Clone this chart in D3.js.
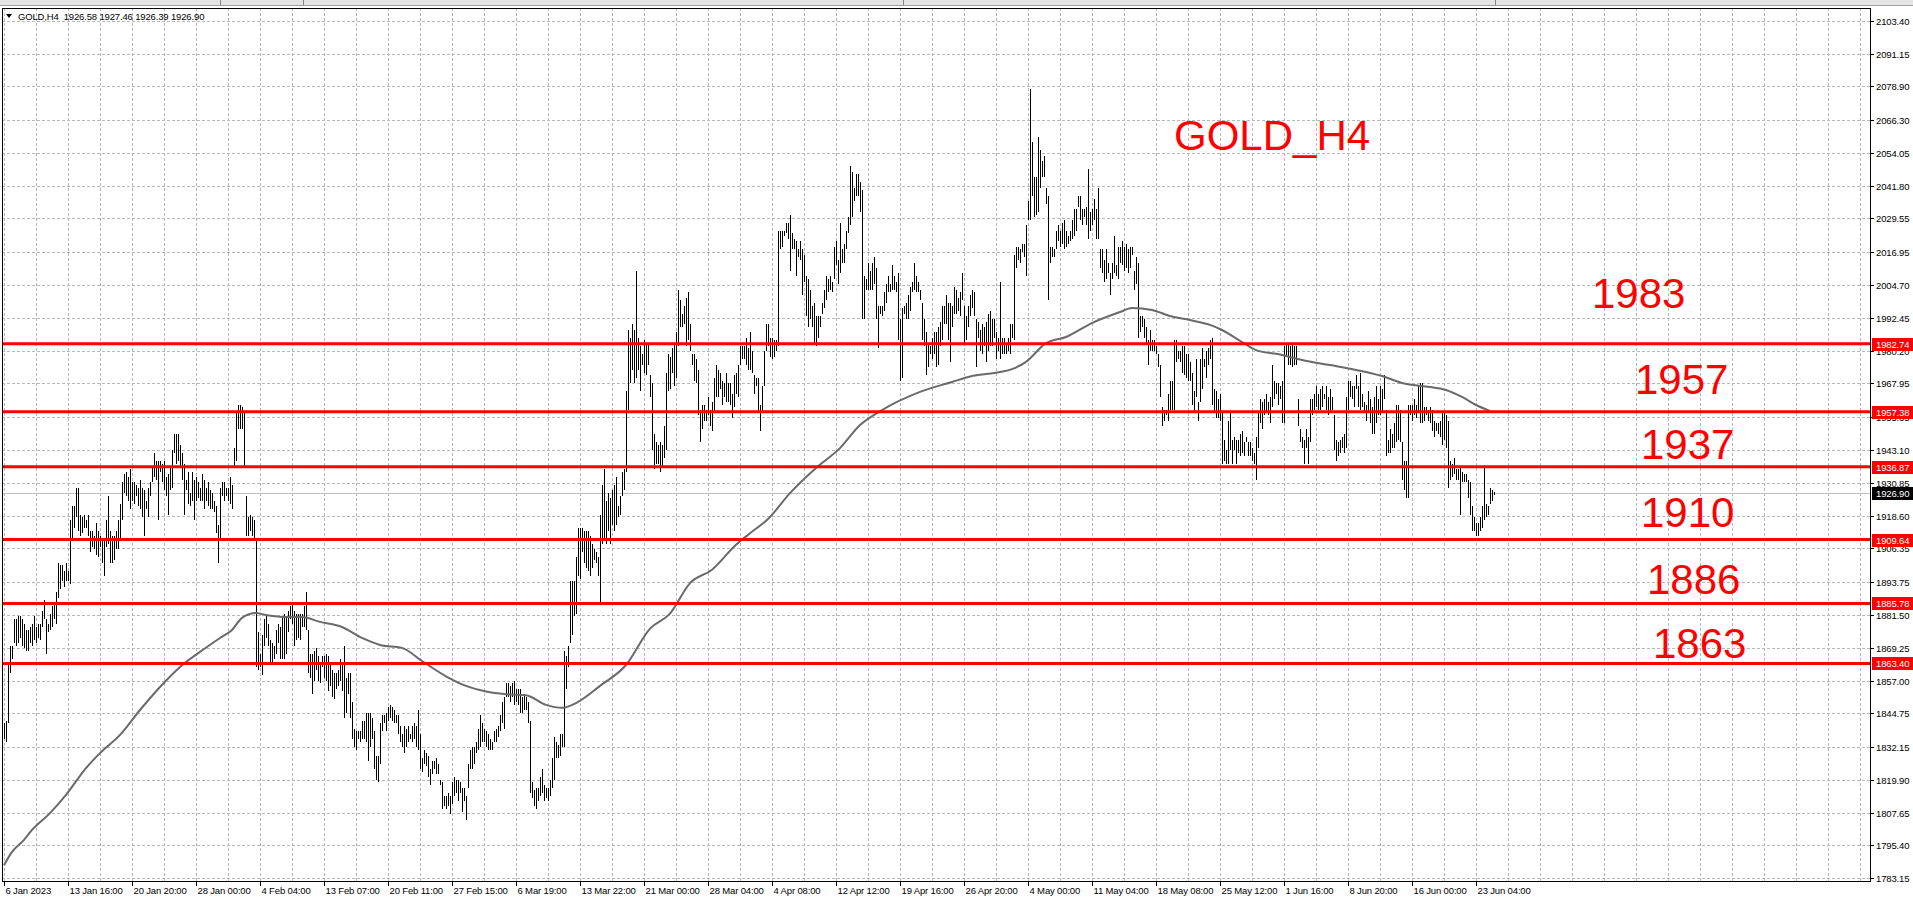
<!DOCTYPE html>
<html><head><meta charset="utf-8">
<script src="https://cdn.jsdelivr.net/npm/d3@7/dist/d3.min.js"></script>
<style>
html,body{margin:0;padding:0;background:#fff;overflow:hidden}
svg{display:block}
text{font-family:"Liberation Sans",Arial,sans-serif}
.sm{font-size:9.5px;letter-spacing:-0.15px}
</style></head><body>
<svg id="c" width="1913" height="899"></svg>
<script>
// ---------------- DATA ----------------
const symbol = "GOLD,H4";
const lastBar = {open: 1926.58, high: 1927.46, low: 1926.39, close: 1926.90};
const chartTitle = "GOLD_H4";

// H4 bar highs, one per bar (6 Jan 2023 -> 23 Jun 2023)
const highs = [
1841,1842,1864,1870,1870,1880,1880,1881,1881,1880,
1878,1876,1876,1877,1878,1881,1877,1878,1878,1883,
1887,1880,1878,1882,1885,1886,1890,1901,1900,1900,
1898,1901,1898,1917,1922,1922,1929,1929,1919,1918,
1919,1917,1919,1913,1913,1911,1916,1913,1911,1909,
1909,1917,1926,1913,1911,1911,1913,1917,1923,1931,
1934,1935,1933,1936,1931,1931,1930,1929,1932,1929,
1928,1924,1929,1931,1937,1942,1939,1939,1939,1938,
1939,1933,1934,1937,1943,1949,1949,1949,1945,1942,
1938,1932,1935,1927,1935,1932,1933,1931,1929,1934,
1932,1929,1931,1928,1927,1924,1922,1915,1929,1931,
1931,1929,1929,1933,1930,1944,1957,1960,1960,1959,
1957,1926,1918,1919,1918,1917,1910,1875,1867,1874,
1880,1881,1878,1872,1871,1870,1876,1878,1877,1881,
1882,1881,1883,1885,1886,1883,1882,1882,1882,1882,
1885,1890,1876,1867,1867,1868,1869,1866,1863,1866,
1866,1867,1866,1863,1861,1860,1860,1861,1865,1863,
1870,1858,1860,1860,1849,1839,1838,1838,1838,1842,
1842,1845,1845,1845,1843,1838,1829,1829,1841,
1844,1844,1845,1847,1848,1847,1846,1844,1844,1840,
1837,1840,1839,1840,1837,1840,1841,1840,1846,1837,
1828,1831,1830,1829,1824,1827,1827,1828,1826,1820,
1819,1814,1814,1815,1814,1819,1821,1820,1820,1819,
1817,1817,1814,1826,1831,1832,1832,1834,1839,1844,
1841,1839,1838,1837,1835,1834,1838,1839,1840,1844,
1849,1851,1856,1856,1855,1856,1857,1854,1854,1854,
1851,1852,1851,1849,1842,1819,1816,1817,1817,1821,
1824,1818,1817,1817,1820,1828,1836,1834,1833,1837,
1837,1868,1866,1870,1894,1894,1894,1903,1914,1914,
1914,1913,1913,1913,1911,1908,1906,1905,1903,1919,
1930,1936,1924,1927,1925,1928,1930,1933,1922,1926,
1935,1936,1965,1988,1985,1990,1988,2010,1985,1982,
1979,1984,1983,1983,1971,1968,1949,1946,1945,1946,
1945,1952,1972,1979,1978,1981,1983,1987,2003,1999,
1994,1997,2000,2002,1990,1979,1979,1977,1973,1958,
1960,1960,1958,1963,1958,1961,1970,1975,1973,1972,
1969,1968,1972,1968,1968,1964,1971,1972,1975,1982,
1982,1982,1985,1981,
1987,1980,1971,1970,1970,1960,1967,1980,1990,1990,
1985,1985,1984,1984,2025,2025,2025,2025,2028,2028,
2031,2024,2022,2021,2018,2021,2018,2016,2008,2007,
2003,1997,1998,1993,1993,1993,1998,2003,2008,2007,
2008,2006,2019,2021,2014,2028,2018,2020,2025,2030,
2049,2047,2041,2046,2046,2043,2040,2008,2007,2013,
2010,2013,2015,2011,1997,1997,1997,2002,2005,2008,
2005,2012,2008,2006,2009,1992,1996,1997,1998,2001,
2004,2006,2013,2008,2006,2003,1998,1992,1987,1983,
1982,1985,1987,1987,1989,1991,1997,1997,2001,1998,
1998,1997,2004,2003,2000,2002,2009,1997,1993,1997,
2001,2003,2002,1992,1991,1988,1990,1989,1991,1994,
1995,1992,1992,1987,1985,2006,1985,1985,1983,1985,
1990,1990,2016,2019,2019,2018,2020,2020,2027,2036,
2078,2058,2045,2045,2060,2055,2051,2053,2041,2038,
2019,2019,2018,2025,2027,2025,2028,2029,2025,2023,
2025,2029,2033,2033,2038,2038,2033,2033,2034,2048,
2032,2033,2037,2033,2041,2018,2018,2014,2018,2013,
2009,2013,2023,2012,2019,2019,
2021,2019,2020,2018,2019,2019,2010,2015,2013,1993,
1993,1992,1989,1984,1988,1984,1984,1982,1979,1975,
1959,1958,1958,1964,1969,1969,1984,1984,1980,1980,
1982,1982,1979,1979,1976,1972,1965,1977,1961,1977,
1981,1977,1980,1981,1984,1985,1966,1965,1962,1964,
1957,1947,1943,1954,1957,1947,1948,1947,1947,1949,
1950,1946,1948,1946,1946,1944,1942,1948,1957,1962,
1961,1962,1964,1961,1963,1975,1969,1968,1968,1967,
1969,1982,1983,1983,1982,1983,1982,1982,1962,1951,
1948,1947,1951,1948,1962,1962,1964,1967,1964,1966,
1967,1964,1967,1963,1966,1963,1956,1947,1946,1947,
1948,1949,1963,1969,1969,1967,1967,1971,1967,1972,
1964,1961,1960,1965,1962,1959,1963,1967,1962,1967,
1966,1971,1958,1947,1951,1949,1953,1960,1960,1958,
1946,1939,1939,1960,1960,1960,1962,1960,1967,1968,
1968,1959,1959,1958,1959,1958,1954,1953,1953,1954,
1957,1957,1956,1954,1939,1938,1940,1936,1936,1937,
1935,1934,1934,1932,1931,1922,1918,1916,1916,1918,
1922,1937,1923,1922,1929,1928,1927.46
];
const lows = [
1835,1834,1841,1860,1865,1871,1870,1871,1873,1870,
1869,1868,1868,1871,1870,1872,1871,1873,1872,1877,
1880,1867,1875,1876,1877,1880,1878,1888,1891,1894,
1892,1894,1894,1893,1909,1914,1918,1913,1911,1912,
1914,1914,1911,1905,1907,1906,1904,1903,1907,1901,
1896,1907,1908,1901,1901,1902,1906,1906,1910,1917,
1927,1926,1924,1921,1924,1923,1926,1922,1921,1918,
1911,1921,1918,1926,1931,1933,1932,1917,1935,1931,
1928,1926,1919,1928,1929,1942,1938,1939,1937,1932,
1919,1928,1923,1922,1924,1917,1924,1925,1924,1924,
1921,1924,1922,1921,1921,1920,1912,1901,1909,1926,
1924,1926,1924,1923,1921,1937,1939,1951,1951,1951,
1937,1911,1911,1913,1911,1910,1862,1861,1862,1859,
1870,1873,1870,1864,1864,1865,1867,1871,1865,1865,
1865,1867,1875,1880,1878,1870,1872,1873,1872,1877,
1877,1876,1860,1858,1852,1857,1861,1857,1856,1862,
1858,1857,1853,1855,1851,1850,1854,1855,1857,1853,
1843,1845,1852,1843,1835,1832,1831,1835,1834,1835,
1835,1834,1827,1832,1835,1824,1820,1819,1826,
1838,1841,1838,1842,1843,1842,1841,1841,1837,1834,
1832,1830,1832,1834,1835,1834,1835,1832,1831,1824,
1823,1826,1825,1821,1818,1822,1824,1822,1822,1818,
1809,1810,1809,1810,1807,1811,1814,1815,1812,1815,
1808,1812,1805,1817,1824,1824,1826,1830,1831,1832,
1834,1834,1832,1831,1831,1831,1834,1834,1836,1838,
1841,1839,1851,1851,1849,1851,1848,1849,1848,1845,
1845,1846,1846,1841,1815,1813,1810,1809,1812,1814,
1815,1812,1813,1812,1814,1817,1820,1828,1828,1829,
1832,1832,1854,1862,1871,1874,1881,1882,1896,1895,
1905,1901,1899,1898,1896,1899,1902,1901,1896,1886,
1908,1909,1908,1913,1908,1915,1913,1915,1918,1919,
1926,1928,1935,1958,1968,1973,1968,1970,1973,1965,
1975,1972,1971,1975,1963,1943,1936,1938,1938,1935,
1937,1940,1943,1965,1966,1972,1967,1970,1982,1989,
1989,1990,1982,1984,1980,1975,1969,1968,1956,1946,
1951,1954,1954,1956,1952,1950,1957,1963,1963,1966,
1960,1963,1961,1961,1960,1955,1959,1964,1963,1975,
1977,1977,1975,1973,
1973,1972,1964,1967,1957,1950,1957,1967,1980,1982,
1978,1977,1978,1980,1982,2018,2019,2023,2024,2022,
2010,2018,2018,2008,2015,2014,2001,2006,1993,1989,
1992,1989,1983,1982,1985,1989,1994,1996,1999,2002,
2003,2002,2007,2012,2005,2009,2013,2013,2018,2024,
2027,2030,2036,2038,2038,2032,1992,1992,2003,2003,
2003,2003,2005,1992,1981,1994,1993,1995,1998,2002,
2002,2003,2003,2002,1984,1969,1970,1994,1992,1992,
1995,2002,2003,2002,2002,1999,1984,1982,1971,1974,
1979,1977,1979,1974,1975,1982,1984,1990,1990,1984,
1976,1989,1994,1994,1995,1993,1999,1983,1984,1989,
1993,1996,1993,1974,1985,1980,1979,1982,1976,1980,
1982,1982,1985,1977,1980,1977,1979,1979,1979,1980,
1979,1985,1984,2011,2014,2013,2017,2015,2008,2029,
2029,2038,2030,2031,2032,2041,2045,2045,2035,1999,
2013,2015,2015,2018,2021,2019,2020,2018,2019,2020,
2021,2022,2023,2025,2034,2029,2027,2030,2027,2022,
2025,2027,2029,2022,2022,2011,2009,2006,2007,2009,
2001,2007,2009,2008,2007,2013,
2012,2010,2011,2009,2011,2016,2003,2005,1985,1987,
1989,1985,1983,1975,1980,1980,1980,1979,1974,1963,
1952,1954,1956,1954,1958,1958,1958,1976,1977,1976,
1972,1971,1970,1969,1969,1960,1957,1963,1954,1961,
1966,1974,1970,1975,1977,1960,1957,1955,1955,1954,
1938,1939,1938,1938,1943,1938,1943,1938,1942,1941,
1942,1941,1946,1941,1941,1939,1938,1932,1944,1953,
1951,1956,1957,1956,1953,1959,1962,1964,1960,1962,
1953,1953,1978,1975,1975,1974,1975,1975,1952,1946,
1944,1938,1944,1938,1946,1956,1958,1959,1958,1958,
1959,1962,1958,1956,1957,1958,1943,1939,1941,1942,
1944,1942,1944,1958,1963,1962,1959,1966,1959,1958,
1959,1957,1954,1957,1953,1949,1949,1953,1956,1956,
1957,1962,1941,1942,1942,1944,1944,1946,1947,1946,
1932,1928,1925,1925,1956,1954,1956,1955,1957,1953,
1953,1954,1956,1954,1953,1950,1948,1950,1949,1948,
1945,1947,1944,1929,1932,1933,1934,1932,1932,1919,
1931,1931,1931,1925,1919,1913,1913,1911,1911,1913,
1914,1917,1918,1919,1923,1924,1926.39
];

// moving average (grey line), read at these bar numbers
const maBars = [0,4,10,14,23,31,41,48,58,68,78,88,98,108,114,119,126,131,141,149,158,169,179,188,199,209,221,231,241,251,261,271,279,286,298,311,323,333,343,354,366,373,382,393,406,418,428,439,458,474,484,498,504,511,521,531,544,558,564,574,583,593,603,609,619,626,639,649,663,676,689,699,713,721,729,736,743];
const maValues = [1788.0,1793.0,1797.5,1801.2,1807.5,1814.3,1824.3,1829.9,1836.7,1846.0,1854.6,1862.1,1867.7,1872.9,1875.9,1880.4,1882.2,1881.5,1880.7,1880.7,1878.9,1877.0,1872.9,1870.3,1869.2,1864.3,1858.6,1855.0,1852.9,1851.9,1851.5,1847.9,1846.8,1848.6,1855.0,1862.8,1876.4,1882.0,1893.4,1898.4,1907.7,1912.0,1917.3,1927.0,1936.4,1943.8,1952.4,1958.0,1964.8,1968.5,1970.7,1972.2,1973.3,1976.0,1983.0,1985.3,1990.5,1994.6,1996.1,1995.4,1993.1,1991.6,1989.8,1987.9,1983.4,1980.4,1978.6,1976.7,1974.8,1973.0,1970.7,1968.1,1966.6,1965.5,1962.9,1959.9,1957.7];

const yTicks = [2103.40,2091.15,2078.90,2066.30,2054.05,2041.80,2029.55,2016.95,2004.70,1992.45,1980.20,1967.95,1955.35,1943.10,1930.85,1918.60,1906.35,1893.75,1881.50,1869.25,1857.00,1844.75,1832.15,1819.90,1807.65,1795.40,1783.15];
const xLabels = ["6 Jan 2023","13 Jan 16:00","20 Jan 20:00","28 Jan 00:00","4 Feb 04:00","13 Feb 07:00","20 Feb 11:00","27 Feb 15:00","6 Mar 19:00","13 Mar 22:00","21 Mar 00:00","28 Mar 04:00","4 Apr 08:00","12 Apr 12:00","19 Apr 16:00","26 Apr 20:00","4 May 00:00","11 May 04:00","18 May 08:00","25 May 12:00","1 Jun 16:00","8 Jun 20:00","16 Jun 00:00","23 Jun 04:00"];
const barsPerLabel = 32;
const barsPerGrid = 16;
const levels = [1982.74,1957.38,1936.87,1909.64,1885.78,1863.40];
const levelNames = ["1983","1957","1937","1910","1886","1863"];

// ---------------- DRAW ----------------
const W = 1913, H = 899;
const L = 2, T = 8, R = 1870, B = 881;
const svg = d3.select("#c");
const x = d3.scaleLinear().domain([0, 933]).range([4, 1870]);
const y = d3.scaleLinear().domain([1783.15, 2103.40]).range([878.3, 20.7]);
const px = v => Math.round(v) + 0.5;

// window strip at top
svg.append("rect").attr("x",0).attr("y",0).attr("width",W).attr("height",5).attr("fill","#e4e4e4");
svg.append("line").attr("x1",0).attr("x2",W).attr("y1",5.5).attr("y2",5.5).attr("stroke","#a0a0a0");
[220,303,903,1495].forEach(s => svg.append("line").attr("x1",s+0.5).attr("x2",s+0.5).attr("y1",0).attr("y2",5).attr("stroke","#888"));

svg.append("defs").append("clipPath").attr("id","plot")
  .append("rect").attr("x",L).attr("y",T).attr("width",R-L).attr("height",B-T);

const grid = svg.append("g").attr("stroke","#b8b8b8").attr("stroke-dasharray","3,2").attr("shape-rendering","crispEdges");
yTicks.forEach(v => grid.append("line").attr("x1",L).attr("x2",R).attr("y1",px(y(v))).attr("y2",px(y(v))));
for (let i = 0; x(i) < R; i += barsPerGrid) {
  grid.append("line").attr("x1",px(x(i))).attr("x2",px(x(i))).attr("y1",T).attr("y2",B);
}

const plot = svg.append("g").attr("clip-path","url(#plot)");

// current price line
plot.append("line").attr("x1",L).attr("x2",R).attr("y1",px(y(lastBar.close))).attr("y2",px(y(lastBar.close)))
  .attr("stroke","#c0c0c0").attr("shape-rendering","crispEdges");

// bars
const bars = plot.append("g").attr("stroke","#000").attr("stroke-width",1).attr("shape-rendering","crispEdges");
highs.forEach((h,i) => {
  const yh = Math.round(y(h)), yl = Math.round(y(lows[i]));
  bars.append("line").attr("x1",px(x(i))).attr("x2",px(x(i))).attr("y1",yh).attr("y2",Math.max(yl, yh+1));
});

// moving average
const ma = maBars.map((b,k) => [b, maValues[k]]);
plot.append("path").datum(ma).attr("fill","none").attr("stroke","#6a6a6a").attr("stroke-width",2)
  .attr("d", d3.line().x(d => x(d[0])).y(d => y(d[1])).curve(d3.curveMonotoneX));

// levels
levels.forEach(v => plot.append("line").attr("x1",L).attr("x2",R).attr("y1",y(v)).attr("y2",y(v))
  .attr("stroke","#ff0000").attr("stroke-width",3));

// frame
svg.append("rect").attr("x",L+0.5).attr("y",T+0.5).attr("width",R-L).attr("height",B-T)
  .attr("fill","none").attr("stroke","#000").attr("shape-rendering","crispEdges");

// right price axis
const ax = svg.append("g");
yTicks.forEach(v => {
  const yy = px(y(v));
  ax.append("line").attr("x1",R).attr("x2",R+4).attr("y1",yy).attr("y2",yy).attr("stroke","#000").attr("shape-rendering","crispEdges");
  ax.append("text").attr("class","sm").attr("x",1876).attr("y",yy).attr("dy","0.35em").attr("fill","#000").text(v.toFixed(2));
});
function tag(v, fill) {
  const yy = y(v);
  ax.append("rect").attr("x",1872).attr("y",Math.round(yy)-6).attr("width",41).attr("height",13).attr("fill",fill);
  ax.append("text").attr("class","sm").attr("x",1876).attr("y",Math.round(yy)+0.5).attr("dy","0.35em").attr("fill","#fff").text(v.toFixed(2));
}
levels.forEach(v => tag(v, "#ff0000"));
tag(lastBar.close, "#000");

// bottom time axis
xLabels.forEach((s,k) => {
  const xx = px(x(k*barsPerLabel));
  ax.append("line").attr("x1",xx).attr("x2",xx).attr("y1",B).attr("y2",B+5).attr("stroke","#000").attr("shape-rendering","crispEdges");
  ax.append("text").attr("class","sm").attr("x",xx+1).attr("y",894).attr("fill","#000").text(s);
});

// header
svg.append("path").attr("d","M6,14 L12,14 L9,18 Z").attr("fill","#000");
svg.append("text").attr("class","sm").attr("x",18).attr("y",20).attr("fill","#000")
  .attr("xml:space","preserve")
  .text(symbol + "  " + [lastBar.open,lastBar.high,lastBar.low,lastBar.close].map(v=>v.toFixed(2)).join(" "));

// annotations
svg.append("text").attr("x",1174).attr("y",150).attr("font-size",42).attr("fill","#ff0000").text(chartTitle);
const annX = [1592,1635,1641,1641,1647,1653];
const annY = [308,394,459,527,594,658];
levelNames.forEach((s,k) => svg.append("text").attr("x",annX[k]).attr("y",annY[k]).attr("font-size",42).attr("fill","#ff0000").text(s));
</script>
</body></html>
